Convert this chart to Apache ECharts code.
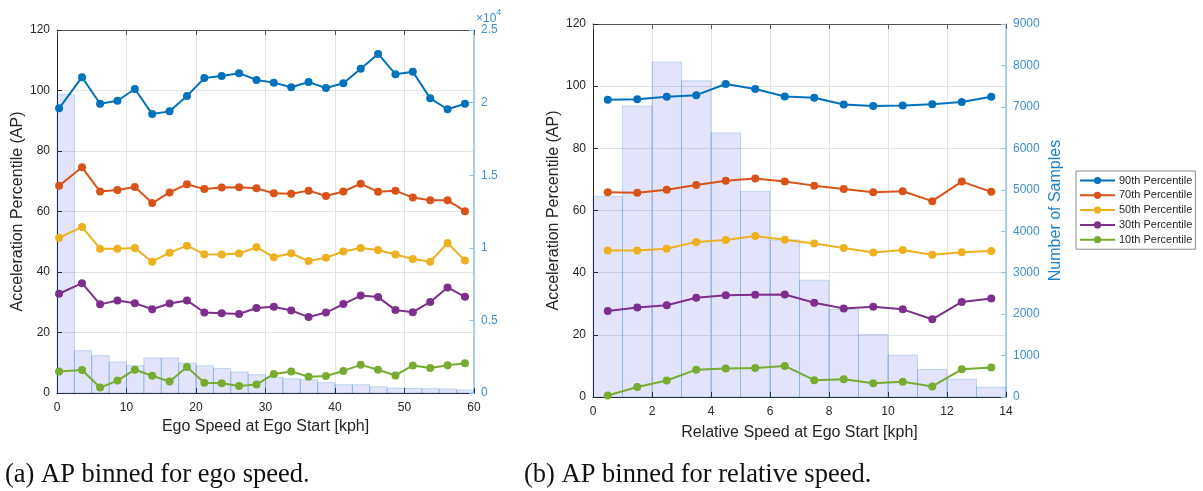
<!DOCTYPE html>
<html>
<head>
<meta charset="utf-8">
<script src="https://cdn.jsdelivr.net/npm/echarts@6/dist/echarts.min.js"></script>
<style>
  html, body { margin: 0; padding: 0; background: #fff; }
  #chart { width: 1203px; height: 491px; }
</style>
</head>
<body>
<div id="chart"></div>
<script>
// ---- (a) AP binned for ego speed ----
const egoSpeed = [0.3, 3.6, 6.2, 8.7, 11.2, 13.7, 16.2, 18.7, 21.2, 23.7, 26.2, 28.7,
                  31.2, 33.7, 36.2, 38.7, 41.2, 43.7, 46.2, 48.7, 51.2, 53.7, 56.2, 58.7];
const egoP90 = [94.1, 104.4, 95.6, 96.6, 100.5, 92.2, 93.1, 98.2, 104.1, 104.8, 105.7, 103.5,
                102.6, 101.1, 102.8, 100.8, 102.4, 107.2, 112.1, 105.4, 106.2, 97.4, 93.8, 95.6];
const egoP70 = [68.5, 74.6, 66.6, 67.1, 68.1, 62.8, 66.3, 69.0, 67.4, 67.9, 68.0, 67.7,
                66.0, 65.9, 66.9, 65.1, 66.6, 69.2, 66.5, 66.9, 64.6, 63.7, 63.7, 60.1];
const egoP50 = [51.3, 54.9, 47.7, 47.7, 47.9, 43.4, 46.4, 48.7, 45.9, 45.8, 46.1, 48.2,
                44.9, 46.2, 43.6, 44.7, 46.8, 47.9, 47.3, 45.8, 44.3, 43.4, 49.6, 43.8];
const egoP30 = [32.8, 36.3, 29.3, 30.6, 29.7, 27.7, 29.6, 30.6, 26.6, 26.4, 26.1, 28.1,
                28.5, 27.3, 25.1, 26.6, 29.4, 32.2, 31.7, 27.4, 26.7, 30.1, 34.9, 31.8];
const egoP10 = [7.1, 7.6, 1.8, 4.1, 7.7, 5.7, 3.8, 8.6, 3.4, 3.2, 2.3, 2.8,
                6.3, 7.1, 5.4, 5.6, 7.3, 9.3, 7.7, 5.8, 9.1, 8.3, 9.2, 9.8];
const egoBinEdges = [0, 2.5, 5, 7.5, 10, 12.5, 15, 17.5, 20, 22.5, 25, 27.5, 30,
                     32.5, 35, 37.5, 40, 42.5, 45, 47.5, 50, 52.5, 55, 57.5, 60];
const egoCounts = [20550, 2910, 2570, 2130, 1880, 2410, 2410, 2060, 1880, 1690, 1450, 1260,
                   1070, 980, 915, 710, 570, 570, 430, 340, 320, 295, 275, 205];

// ---- (b) AP binned for relative speed ----
const relSpeed = [0.5, 1.5, 2.5, 3.5, 4.5, 5.5, 6.5, 7.5, 8.5, 9.5, 10.5, 11.5, 12.5, 13.5];
const relP90 = [95.6, 95.8, 96.6, 97.1, 100.7, 99.1, 96.7, 96.3, 94.1, 93.6, 93.8, 94.2, 94.9, 96.6];
const relP70 = [65.9, 65.7, 66.7, 68.2, 69.6, 70.3, 69.3, 68.0, 66.9, 65.9, 66.2, 63.0, 69.3, 66.0];
const relP50 = [47.1, 47.1, 47.7, 49.9, 50.5, 51.8, 50.6, 49.4, 47.9, 46.5, 47.3, 45.8, 46.6, 47.0];
const relP30 = [27.7, 28.8, 29.5, 31.9, 32.7, 32.9, 33.0, 30.3, 28.5, 29.0, 28.2, 25.0, 30.6, 31.7];
const relP10 = [0.5, 3.2, 5.3, 8.8, 9.2, 9.3, 10.0, 5.4, 5.7, 4.4, 4.9, 3.4, 8.9, 9.5];
const relBinEdges = [0, 1, 2, 3, 4, 5, 6, 7, 8, 9, 10, 11, 12, 13, 14];
const relCounts = [4840, 7020, 8080, 7630, 6370, 4960, 3790, 2820, 2110, 1510, 1010, 660, 430, 235];

const seriesNames = ['90th Percentile', '70th Percentile', '50th Percentile', '30th Percentile', '10th Percentile'];
const seriesColors = ['#0072BD', '#D95319', '#EDB120', '#7E2F8E', '#77AC30'];

const egoTicksLabel = ['0', '0.5', '1', '1.5', '2', '2.5'];

const FONT = '"Liberation Sans", Arial, sans-serif';
const DARK = '#262626';
const GRID_LINE = '#E3E3E3';
const BLUE_LABEL = '#3D8ED3';
const BLUE_AXIS = '#93C2E7';

function pairs(xs, ys) { return xs.map((x, i) => [x, ys[i]]); }
function bins(edges, counts) { return counts.map((c, i) => [edges[i], edges[i + 1], c]); }

function histSeries(xIdx, yIdx, data) {
  return {
    type: 'custom',
    xAxisIndex: xIdx,
    yAxisIndex: yIdx,
    z: 1,
    silent: true,
    data: data,
    encode: { x: [0, 1], y: 2 },
    renderItem: function (params, api) {
      const p0 = api.coord([api.value(0), 0]);
      const p1 = api.coord([api.value(1), api.value(2)]);
      return {
        type: 'rect',
        shape: { x: p0[0], y: p1[1], width: p1[0] - p0[0], height: p0[1] - p1[1] },
        style: { fill: 'rgba(40,50,235,0.13)', stroke: 'rgba(0,114,189,0.22)', lineWidth: 1 }
      };
    }
  };
}

function lineSeries(name, color, xIdx, yIdx, data) {
  return {
    name: name,
    type: 'line',
    xAxisIndex: xIdx,
    yAxisIndex: yIdx,
    z: 3,
    data: data,
    symbol: 'circle',
    symbolSize: 8,
    showSymbol: true,
    animation: false,
    itemStyle: { color: color },
    lineStyle: { color: color, width: 2 }
  };
}

function bottomAxis(gridIndex, max, interval, name, nameGap) {
  return {
    type: 'value', gridIndex: gridIndex, position: 'bottom',
    min: 0, max: max, interval: interval,
    name: name, nameLocation: 'middle', nameGap: nameGap,
    nameTextStyle: { fontFamily: FONT, fontSize: 16, color: DARK },
    axisLine: { show: true, onZero: false, lineStyle: { color: DARK, width: 1 } },
    axisTick: { show: true, inside: true, length: 5, lineStyle: { color: DARK } },
    axisLabel: { fontFamily: FONT, fontSize: 12, color: DARK, margin: 9 },
    splitLine: { show: true, lineStyle: { color: GRID_LINE, width: 1 } }
  };
}
function topAxis(gridIndex, max, interval) {
  return {
    type: 'value', gridIndex: gridIndex, position: 'top',
    min: 0, max: max, interval: interval,
    axisLine: { show: true, onZero: false, lineStyle: { color: '#555', width: 1 } },
    axisTick: { show: true, inside: true, length: 5, lineStyle: { color: '#555' } },
    axisLabel: { show: false },
    splitLine: { show: false }
  };
}
function leftAxis(gridIndex, nameGap) {
  return {
    type: 'value', gridIndex: gridIndex, position: 'left',
    min: 0, max: 120, interval: 20,
    name: 'Acceleration Percentile (AP)', nameLocation: 'middle', nameGap: nameGap,
    nameTextStyle: { fontFamily: FONT, fontSize: 16, color: DARK },
    axisLine: { show: true, onZero: false, lineStyle: { color: DARK, width: 1 } },
    axisTick: { show: true, inside: true, length: 5, lineStyle: { color: DARK } },
    axisLabel: { fontFamily: FONT, fontSize: 12, color: DARK, margin: 7 },
    splitLine: { show: true, lineStyle: { color: GRID_LINE, width: 1 } }
  };
}
function rightAxis(gridIndex, max, interval, extra) {
  return Object.assign({
    type: 'value', gridIndex: gridIndex, position: 'right',
    min: 0, max: max, interval: interval,
    axisLine: { show: true, onZero: false, lineStyle: { color: BLUE_AXIS, width: 1.5 } },
    axisTick: { show: true, inside: true, length: 5, lineStyle: { color: BLUE_AXIS } },
    axisLabel: { fontFamily: FONT, fontSize: 12, color: BLUE_LABEL, margin: 7 },
    splitLine: { show: false }
  }, extra || {});
}

const series = [
  histSeries(0, 1, bins(egoBinEdges, egoCounts)),
  histSeries(2, 3, bins(relBinEdges, relCounts))
];
const egoSets = [egoP90, egoP70, egoP50, egoP30, egoP10];
const relSets = [relP90, relP70, relP50, relP30, relP10];
seriesNames.forEach((n, i) => {
  series.push(lineSeries(n, seriesColors[i], 0, 0, pairs(egoSpeed, egoSets[i])));
});
seriesNames.forEach((n, i) => {
  series.push(lineSeries(n, seriesColors[i], 2, 2, pairs(relSpeed, relSets[i])));
});

const option = {
  backgroundColor: '#ffffff',
  animation: false,
  grid: [
    { left: 57, top: 30, width: 417, height: 363, containLabel: false },
    { left: 593, top: 24, width: 413, height: 373, containLabel: false }
  ],
  xAxis: [
    bottomAxis(0, 60, 10, 'Ego Speed at Ego Start [kph]', 24),
    topAxis(0, 60, 10),
    bottomAxis(1, 14, 2, 'Relative Speed at Ego Start [kph]', 28),
    topAxis(1, 14, 2)
  ],
  yAxis: [
    leftAxis(0, 24),
    rightAxis(0, 25000, 5000, {
      axisLabel: {
        fontFamily: FONT, fontSize: 12, color: BLUE_LABEL, margin: 7,
        formatter: function (v) { return egoTicksLabel[Math.round(v / 5000)]; }
      }
    }),
    leftAxis(1, 29),
    rightAxis(1, 9000, 1000, {
      axisLabel: {
        fontFamily: FONT, fontSize: 12, color: BLUE_LABEL, margin: 7,
        formatter: function (v) { return String(v); }
      },
      name: 'Number of Samples', nameLocation: 'middle', nameGap: 42, nameRotate: 90,
      nameTextStyle: { fontFamily: FONT, fontSize: 16, color: '#1F82CC' }
    })
  ],
  legend: {
    data: seriesNames,
    orient: 'vertical',
    left: 1076, top: 171,
    itemWidth: 35, itemHeight: 9, itemGap: 3.8,
    padding: [4, 3, 4, 3],
    borderColor: '#8E8E8E', borderWidth: 1,
    backgroundColor: '#ffffff',
    textStyle: { fontFamily: FONT, fontSize: 11, color: DARK, padding: [0, 0, 0, -1] },
    selectedMode: false
  },
  graphic: [
    {
      type: 'text', left: 476, top: 8,
      style: {
        text: '{a|×10}{b|4}',
        rich: {
          a: { fontFamily: FONT, fontSize: 12, fill: BLUE_LABEL, padding: [5, 0, 0, 0] },
          b: { fontFamily: FONT, fontSize: 9, fill: BLUE_LABEL, verticalAlign: 'top' }
        }
      }
    },
    {
      type: 'text', left: 5, top: 462,
      style: { text: '(a) AP binned for ego speed.', font: '26.5px "Liberation Serif", serif', fill: '#111' }
    },
    {
      type: 'text', left: 524, top: 462,
      style: { text: '(b) AP binned for relative speed.', font: '26.5px "Liberation Serif", serif', fill: '#111' }
    }
  ],
  series: series
};

const chart = echarts.init(document.getElementById('chart'), null, { renderer: 'canvas' });
chart.setOption(option);
</script>
</body>
</html>
